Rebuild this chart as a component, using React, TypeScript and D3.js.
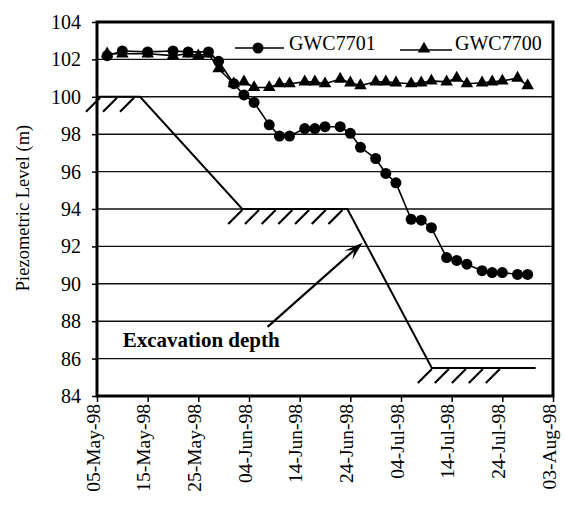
import * as d3 from 'd3';
import { useEffect, useRef } from 'react';

// GWC7701 (circles)
const dates7701 = [
  '1998-05-07', '1998-05-10', '1998-05-15', '1998-05-20', '1998-05-23', '1998-05-27',
  '1998-05-29', '1998-06-01', '1998-06-03', '1998-06-05', '1998-06-08', '1998-06-10',
  '1998-06-12', '1998-06-15', '1998-06-17', '1998-06-19', '1998-06-22', '1998-06-24',
  '1998-06-26', '1998-06-29', '1998-07-01', '1998-07-03', '1998-07-06', '1998-07-08',
  '1998-07-10', '1998-07-13', '1998-07-15', '1998-07-17', '1998-07-20', '1998-07-22',
  '1998-07-24', '1998-07-27', '1998-07-29',
];
const values7701 = [
  102.2, 102.45, 102.4, 102.45, 102.4, 102.4,
  101.9, 100.7, 100.1, 99.7, 98.5, 97.9,
  97.9, 98.3, 98.3, 98.4, 98.4, 98.05,
  97.3, 96.7, 95.9, 95.4, 93.45, 93.4,
  93.0, 91.4, 91.25, 91.05, 90.7, 90.6,
  90.6, 90.5, 90.5,
];

// GWC7700 (triangles)
const dates7700 = [
  '1998-05-07', '1998-05-10', '1998-05-15', '1998-05-20', '1998-05-23', '1998-05-25',
  '1998-05-27', '1998-05-29', '1998-06-01', '1998-06-03', '1998-06-05', '1998-06-08',
  '1998-06-10', '1998-06-12', '1998-06-15', '1998-06-17', '1998-06-19', '1998-06-22',
  '1998-06-24', '1998-06-26', '1998-06-29', '1998-07-01', '1998-07-03', '1998-07-06',
  '1998-07-08', '1998-07-10', '1998-07-13', '1998-07-15', '1998-07-17', '1998-07-20',
  '1998-07-22', '1998-07-24', '1998-07-27', '1998-07-29',
];
const values7700 = [
  102.3, 102.3, 102.3, 102.2, 102.3, 102.2,
  102.3, 101.5, 100.7, 100.8, 100.5, 100.5,
  100.7, 100.7, 100.8, 100.8, 100.7, 100.95,
  100.75, 100.6, 100.8, 100.8, 100.75, 100.7,
  100.75, 100.85, 100.8, 101.0, 100.7, 100.75,
  100.8, 100.85, 101.0, 100.6,
];

// excavation depth profile
const excavDates = [
  '1998-05-05T00:00', '1998-05-13T12:00', '1998-06-02T16:00',
  '1998-06-23T10:00', '1998-07-10T02:00', '1998-07-30T14:00',
];
const excavLevels = [100, 100, 94, 94, 85.5, 85.5];
const hatchCounts = [3, 7, 5];

const xTickDates = [
  '1998-05-05', '1998-05-15', '1998-05-25', '1998-06-04', '1998-06-14',
  '1998-06-24', '1998-07-04', '1998-07-14', '1998-07-24', '1998-08-03',
];
const yTicks = [84, 86, 88, 90, 92, 94, 96, 98, 100, 102, 104];

const parse = (s: string) => new Date(s.length > 10 ? s : `${s}T00:00`);

function Chart() {
  const ref = useRef<SVGSVGElement>(null);

  useEffect(() => {
    const W = 566;
    const H = 507;
    const margin = { left: 97, top: 22, right: 13, bottom: 111 };
    const font = '"Liberation Serif", "Times New Roman", serif';

    const svg = d3.select(ref.current);
    svg.selectAll('*').remove();

    const x = d3.scaleTime()
      .domain([parse(xTickDates[0]), parse(xTickDates[xTickDates.length - 1])])
      .range([margin.left, W - margin.right]);
    const y = d3.scaleLinear()
      .domain([84, 104])
      .range([H - margin.bottom, margin.top]);

    const [x0, x1] = x.range();
    const [y0, y1] = y.range();

    // grid lines
    svg.append('g')
      .selectAll('line')
      .data(yTicks.slice(1, -1))
      .enter()
      .append('line')
      .attr('x1', x0)
      .attr('x2', x1)
      .attr('y1', (d) => y(d))
      .attr('y2', (d) => y(d))
      .attr('stroke', '#111')
      .attr('stroke-width', 1.4);

    // frame
    svg.append('rect')
      .attr('x', x0)
      .attr('y', y1)
      .attr('width', x1 - x0)
      .attr('height', y0 - y1)
      .attr('fill', 'none')
      .attr('stroke', '#000')
      .attr('stroke-width', 3);

    // Y axis
    const yAxis = svg.append('g')
      .attr('transform', `translate(${x0},0)`)
      .call(d3.axisLeft(y).tickValues(yTicks).tickSize(5).tickPadding(11));
    yAxis.select('.domain').remove();
    yAxis.selectAll('line').attr('stroke-width', 1.5);
    yAxis.selectAll('text')
      .attr('font-family', font)
      .attr('font-size', 20)
      .attr('fill', '#000');

    // X axis
    const xAxis = svg.append('g')
      .attr('transform', `translate(0,${y0})`)
      .call(d3.axisBottom(x)
        .tickValues(xTickDates.map(parse))
        .tickFormat((d) => d3.timeFormat('%d-%b-%y')(d as Date))
        .tickSize(6));
    xAxis.select('.domain').remove();
    xAxis.selectAll('line').attr('stroke-width', 1.5);
    xAxis.selectAll('text')
      .attr('font-family', font)
      .attr('font-size', 19.5)
      .attr('fill', '#000')
      .attr('transform', 'rotate(-90)')
      .attr('text-anchor', 'end')
      .attr('dy', '0.32em')
      .attr('x', -8)
      .attr('y', -4);

    // Y label
    svg.append('text')
      .attr('transform', `translate(29,208) rotate(-90)`)
      .attr('text-anchor', 'middle')
      .attr('font-family', font)
      .attr('font-size', 18.5)
      .text('Piezometric Level (m)');

    // excavation profile
    const excav = excavDates.map((d, i) => ({ date: parse(d), v: excavLevels[i] }));
    svg.append('path')
      .datum(excav)
      .attr('d', d3.line<{ date: Date; v: number }>()
        .x((d) => x(d.date))
        .y((d) => y(d.v)))
      .attr('fill', 'none')
      .attr('stroke', '#000')
      .attr('stroke-width', 2);

    // hatches under each bench
    const hatchGap = 17;
    hatchCounts.forEach((n, k) => {
      const px = x(excav[k * 2].date);
      const py = y(excav[k * 2].v);
      const offset = k === 0 ? 3 : 0;
      const gap = k === 1 ? 16.7 : hatchGap;
      svg.append('g')
        .selectAll('line')
        .data(d3.range(n))
        .enter()
        .append('line')
        .attr('x1', (i) => px + offset + i * gap)
        .attr('y1', py + 1)
        .attr('x2', (i) => px + offset + i * gap - 14)
        .attr('y2', py + 15)
        .attr('stroke', '#000')
        .attr('stroke-width', 2.2);
    });

    // arrow to excavation line
    const tail: [number, number] = [x(parse('1998-06-07T16:00')), y(87.7)];
    const head: [number, number] = [x(parse('1998-06-26T10:00')), y(92.2)];
    const ang = Math.atan2(head[1] - tail[1], head[0] - tail[0]);
    svg.append('line')
      .attr('x1', tail[0])
      .attr('y1', tail[1])
      .attr('x2', head[0] - 8 * Math.cos(ang))
      .attr('y2', head[1] - 8 * Math.sin(ang))
      .attr('stroke', '#000')
      .attr('stroke-width', 2.2);
    const L = 19;
    const Wd = 6;
    const bx = head[0] - L * Math.cos(ang);
    const by = head[1] - L * Math.sin(ang);
    const nx = -Math.sin(ang);
    const ny = Math.cos(ang);
    const nb = [head[0] - 11 * Math.cos(ang), head[1] - 11 * Math.sin(ang)];
    svg.append('path')
      .attr('d', `M${head[0]},${head[1]}L${bx + nx * Wd},${by + ny * Wd}L${nb[0]},${nb[1]}L${bx - nx * Wd},${by - ny * Wd}Z`)
      .attr('fill', '#000');

    svg.append('text')
      .attr('x', x(parse('1998-05-10T02:00')))
      .attr('y', y(86.6))
      .attr('font-family', font)
      .attr('font-size', 21)
      .attr('font-weight', 'bold')
      .text('Excavation depth');

    // series
    const s7701 = dates7701.map((d, i) => ({ date: parse(d), v: values7701[i] }));
    const s7700 = dates7700.map((d, i) => ({ date: parse(d), v: values7700[i] }));
    const line = d3.line<{ date: Date; v: number }>()
      .x((d) => x(d.date))
      .y((d) => y(d.v));

    svg.append('path')
      .datum(s7700)
      .attr('d', line)
      .attr('fill', 'none')
      .attr('stroke', '#000')
      .attr('stroke-width', 1.6);
    const tri = d3.symbol().type(d3.symbolTriangle).size(68);
    svg.append('g')
      .selectAll('path')
      .data(s7700)
      .enter()
      .append('path')
      .attr('d', tri)
      .attr('transform', (d) => `translate(${x(d.date)},${y(d.v)})`)
      .attr('fill', '#000');

    svg.append('path')
      .datum(s7701)
      .attr('d', line)
      .attr('fill', 'none')
      .attr('stroke', '#000')
      .attr('stroke-width', 1.6);
    svg.append('g')
      .selectAll('circle')
      .data(s7701)
      .enter()
      .append('circle')
      .attr('cx', (d) => x(d.date))
      .attr('cy', (d) => y(d.v))
      .attr('r', 5.5)
      .attr('fill', '#000');

    // legend
    const lg = svg.append('g').attr('font-family', font).attr('font-size', 20);
    lg.append('line').attr('x1', 235).attr('x2', 284).attr('y1', 48).attr('y2', 48)
      .attr('stroke', '#000').attr('stroke-width', 1.6);
    lg.append('circle').attr('cx', 258).attr('cy', 48).attr('r', 5.5).attr('fill', '#000');
    lg.append('text').attr('x', 289).attr('y', 50).text('GWC7701');
    lg.append('line').attr('x1', 400).attr('x2', 452).attr('y1', 50).attr('y2', 50)
      .attr('stroke', '#000').attr('stroke-width', 1.6);
    lg.append('path').attr('d', tri).attr('transform', 'translate(424,49)').attr('fill', '#000');
    lg.append('text').attr('x', 455).attr('y', 50).text('GWC7700');
  }, []);

  return (
    <svg
      ref={ref}
      width={566}
      height={507}
      style={{ position: 'absolute', left: 0, top: 0, background: '#fff' }}
    />
  );
}

export default function App() {
  return <Chart />;
}
